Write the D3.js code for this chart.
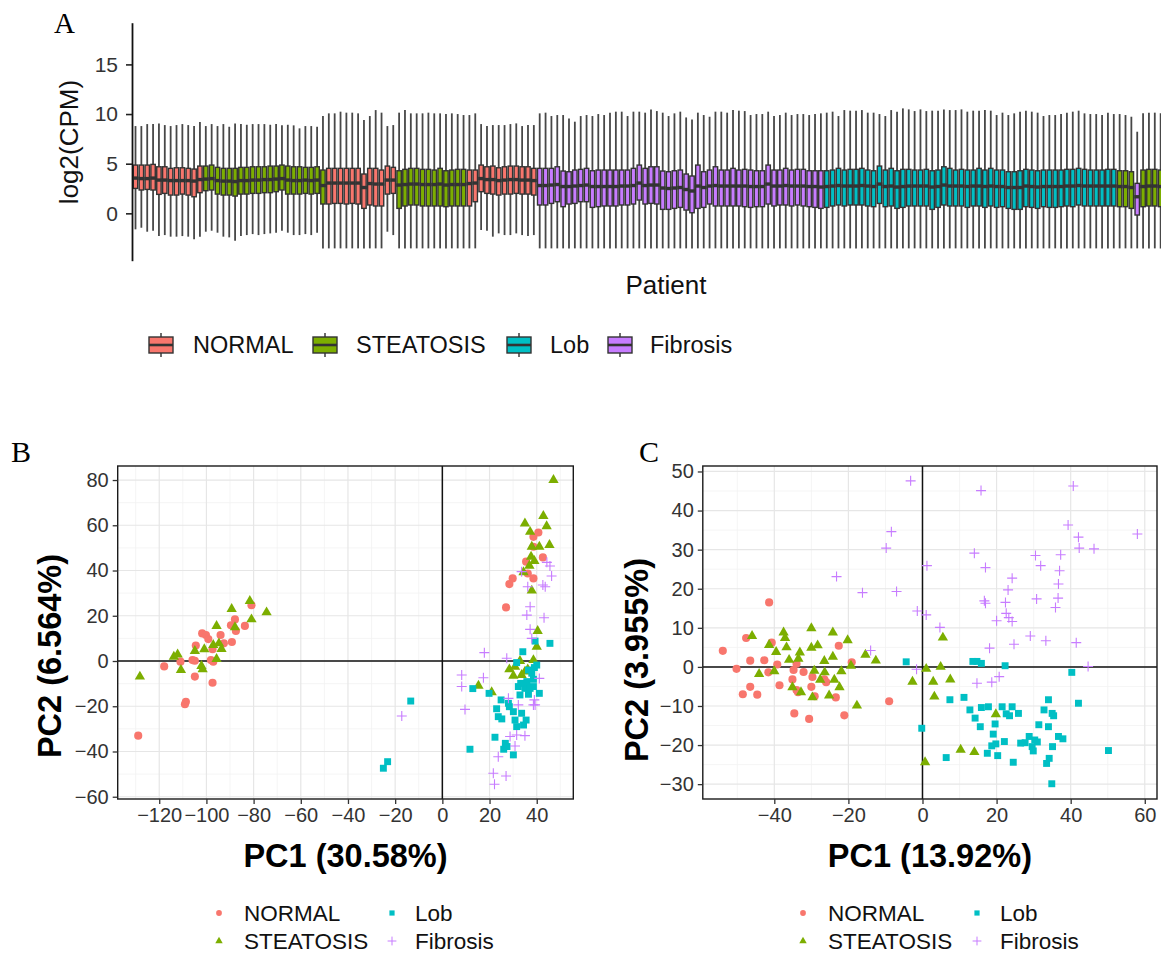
<!DOCTYPE html>
<html><head><meta charset="utf-8">
<script src="https://cdn.jsdelivr.net/npm/d3@7"></script>
<style>
body{margin:0;background:#fff}
svg{display:block;font-family:"Liberation Sans",Arial,Helvetica,sans-serif}
</style>
</head><body>
<svg id="chart" width="1161" height="958"></svg>
<script>
// ---------------- DATA ----------------
const groups = ["NORMAL", "STEATOSIS", "Lob", "Fibrosis"];
const groupCodes = ["N", "S", "L", "F"];
const groupColors = ["#F8766D", "#7CAE00", "#00BFC4", "#C77CFF"];

// Panel A: one code per patient (N=NORMAL, S=STEATOSIS, L=Lob, F=Fibrosis)
const patientGroup = ("NNNNNNNNNNNN" + "SSSSSSSSSSSSSSSSSSSSS" + "NNNNNNNNNNNN" + "SSSSSSSSSSSS" + "NNNNNNNNNNNN" +
  "FFFFFFFFFFFFFFFFFFFFFFFFFFFFFFFFFFFFFFFFFFFFFFFFF" +
  "LLLLLLLLLLLLLLLLLLLLLLLLLLLLLLLLLLLLLLLLLLLLLLLLLL" + "SSS" + "F" + "SSSS").split("");

const whiskerLow = [
 -1.61,-1.45,-1.85,-1.75,-2.29,-2.19,-2.35,-2.35,-2.29,-2.35,
 -2.62,-2.35,-1.85,-1.75,-1.95,-2.35,-2.42,-2.75,-2.29,-2.19,
 -2.09,-2.19,-2.09,-2.02,-1.95,-1.75,-1.95,-2.19,-2.19,-2.09,
 -2.19,-1.95,
 -3.53,-3.53,-3.53,-3.53,-3.53,-3.53,-3.53,-3.53,-3.53,-3.53,-3.53,
 -1.85,-2.19,
 -3.53,-3.53,-3.53,-3.53,-3.53,-3.53,-3.53,-3.53,-3.53,-3.53,-3.53,-3.53,-3.53,-3.53,
 -1.68,-1.75,-2.35,-2.02,-2.19,-2.19,-2.02,-2.19,-2.29,-2.19,
 -3.53,-3.53,-3.53,-3.53,-3.53,-3.53,-3.53,-3.53,-3.53,-3.53,
 -3.53,-3.53,-3.53,-3.53,-3.53,-3.53,-3.53,-3.53,-3.53,-3.53,
 -3.53,-3.53,-3.53,-3.53,-3.53,-3.53,-3.53,-3.53,-3.53,-3.53,
 -3.53,-3.53,-3.53,-3.53,-3.53,-3.53,-3.53,-3.53,-3.53,-3.53,
 -3.53,-3.53,-3.53,-3.53,-3.53,-3.53,-3.53,-3.53,-3.53,-3.53,
 -3.53,-3.53,-3.53,-3.53,-3.53,-3.53,-3.53,-3.53,-3.53,-3.53,
 -3.53,-3.53,-3.53,-3.53,-3.53,-3.53,-3.53,-3.53,-3.53,-3.53,
 -3.53,-3.53,-3.53,-3.53,-3.53,-3.53,-3.53,-3.53,-3.53,-3.53,
 -3.53,-3.53,-3.53,-3.53,-3.53,-3.53,-3.53,-3.53,-3.53,-3.53,
 -3.53,-3.53,-3.53,-3.53,-3.53,-3.53,-3.53,-3.53,-3.53,-3.53,
 -3.53,-3.53,-3.53,-3.53,-3.53,-3.53,-3.53
];
const q1 = [
 2.51,2.35,2.41,2.35,1.91,2.01,1.84,1.84,1.94,1.84,
 1.67,2.08,2.28,2.35,1.94,1.84,1.84,1.74,1.94,1.94,
 2.01,2.01,2.08,2.08,2.18,2.35,1.94,1.94,1.94,2.01,
 1.94,2.01,
 0.94,0.94,1.00,1.00,0.94,1.00,0.94,0.50,0.84,0.74,0.74,
 1.94,2.01,
 0.50,0.74,0.84,0.84,0.74,0.74,0.74,0.74,0.67,0.74,0.74,0.74,0.74,1.17,
 2.18,2.01,1.94,1.84,1.94,1.94,2.01,1.94,1.94,1.84,
 0.84,0.84,1.00,1.17,0.67,0.94,1.00,1.17,1.17,0.60,
 0.67,0.74,0.74,0.74,0.84,0.84,0.94,1.34,0.94,1.00,
 0.94,0.40,0.40,0.50,0.60,0.33,0.06,0.50,0.60,0.94,
 0.74,0.74,0.74,0.74,0.74,0.67,0.60,0.67,0.67,0.94,
 0.74,0.84,0.84,0.74,0.84,0.74,0.67,0.60,0.50,
 0.60,0.74,0.84,0.74,0.84,0.84,0.84,0.74,0.67,1.00,
 0.67,0.74,0.50,0.60,0.74,0.74,0.74,0.74,0.40,0.60,
 0.84,0.74,0.74,0.74,0.60,0.74,0.74,0.60,0.74,0.60,
 0.67,0.50,0.40,0.40,0.67,0.60,0.50,0.67,0.60,0.60,
 0.67,0.74,0.67,0.84,0.74,0.74,0.74,0.74,0.74,0.74,
 0.67,0.67,0.50,-0.17,0.67,0.74,0.74,0.67
];
const median = [
 3.55,3.5,3.5,3.55,3.35,3.35,3.3,3.3,3.3,3.3,
 3.25,3.4,3.45,3.5,3.3,3.25,3.25,3.2,3.3,3.3,
 3.35,3.35,3.4,3.4,3.45,3.5,3.35,3.3,3.3,3.35,
 3.3,3.35,
 2.8,3.05,3.05,3.05,3.05,3.05,3.05,2.6,3.0,2.95,2.95,
 3.35,3.35,
 2.85,2.9,2.95,2.95,2.9,2.9,2.9,2.95,2.85,2.9,2.9,2.9,3.0,3.05,
 3.5,3.4,3.4,3.3,3.35,3.4,3.4,3.35,3.35,3.3,
 2.8,2.8,2.85,2.9,2.7,2.7,2.75,2.8,2.85,2.7,
 2.7,2.7,2.7,2.7,2.75,2.75,2.8,3.05,2.8,2.85,
 2.85,2.55,2.5,2.55,2.6,2.4,2.25,2.75,2.6,2.75,
 2.8,2.75,2.75,2.75,2.75,2.75,2.7,2.7,2.7,2.95,
 2.75,2.75,2.8,2.75,2.75,2.75,2.7,2.7,2.65,
 2.7,2.75,2.8,2.75,2.75,2.75,2.8,2.75,2.7,2.95,
 2.7,2.75,2.65,2.7,2.75,2.75,2.75,2.75,2.65,2.7,
 2.85,2.75,2.75,2.75,2.7,2.75,2.75,2.7,2.75,2.7,
 2.7,2.6,2.6,2.6,2.75,2.7,2.65,2.7,2.7,2.7,
 2.7,2.75,2.75,2.8,2.75,2.75,2.75,2.75,2.75,2.75,
 2.7,2.7,2.6,1.67,2.7,2.75,2.75,2.7
];
const q3 = [
 4.86,4.86,4.86,4.93,4.69,4.69,4.53,4.59,4.59,4.53,
 4.46,4.76,4.76,4.86,4.63,4.53,4.53,4.53,4.63,4.63,
 4.69,4.69,4.69,4.76,4.76,4.86,4.76,4.69,4.69,4.63,
 4.63,4.69,
 4.36,4.53,4.53,4.53,4.53,4.53,4.53,3.96,4.53,4.53,4.36,
 4.76,4.63,
 4.29,4.43,4.53,4.53,4.43,4.43,4.36,4.53,4.29,4.36,4.43,4.43,4.36,4.36,
 4.86,4.69,4.76,4.59,4.69,4.76,4.76,4.69,4.69,4.53,
 4.53,4.53,4.53,4.69,4.26,4.19,4.36,4.43,4.53,4.29,
 4.36,4.36,4.36,4.36,4.36,4.36,4.53,4.86,4.53,4.69,
 4.69,4.26,4.19,4.29,4.36,3.96,3.76,4.86,4.19,4.36,
 4.69,4.36,4.36,4.53,4.36,4.43,4.36,4.29,4.29,4.86,
 4.36,4.36,4.53,4.36,4.43,4.43,4.29,4.29,4.29,
 4.29,4.36,4.53,4.36,4.43,4.43,4.53,4.36,4.29,4.76,
 4.36,4.53,4.29,4.43,4.43,4.36,4.36,4.43,4.29,4.36,
 4.69,4.53,4.36,4.43,4.36,4.36,4.53,4.36,4.53,4.36,
 4.36,4.19,4.19,4.29,4.43,4.36,4.29,4.36,4.36,4.36,
 4.36,4.43,4.43,4.53,4.43,4.36,4.36,4.36,4.43,4.43,
 4.29,4.29,4.19,3.02,4.36,4.43,4.43,4.36
];
const whiskerHigh = [
 8.79,8.79,8.99,8.99,9.06,8.89,8.79,8.89,8.99,8.89,
 8.79,9.19,8.79,8.99,8.79,8.99,8.72,9.06,8.99,8.92,
 8.99,8.99,8.99,8.92,8.99,8.86,8.92,8.86,8.56,8.79,
 8.79,8.72,
 9.80,10.07,10.07,10.24,10.14,10.14,10.07,9.40,9.80,10.40,10.14,
 8.79,8.89,
 10.14,10.40,10.07,10.07,10.07,10.14,10.07,10.07,10.00,10.07,10.00,9.90,9.90,10.07,
 8.99,8.79,8.89,8.89,8.89,8.99,9.06,8.79,8.89,8.89,
 10.07,10.14,9.80,9.90,9.90,9.56,9.23,9.80,9.90,9.80,
 10.00,9.90,10.14,10.24,10.24,9.80,10.24,10.24,10.14,10.47,
 10.30,10.14,9.80,10.07,10.24,9.66,9.46,10.14,9.90,9.73,
 10.24,10.24,10.14,10.40,10.34,10.30,9.90,10.00,10.00,10.24,
 9.80,9.90,10.14,9.90,10.00,10.00,9.90,10.00,10.07,
 10.14,10.24,9.80,10.40,10.34,10.34,10.40,10.14,10.14,10.00,
 9.80,10.40,10.24,10.57,10.47,10.30,10.47,10.30,10.34,10.34,
 10.47,10.40,10.40,10.47,10.24,10.34,10.34,10.40,10.34,9.90,
 10.14,9.90,10.07,10.24,10.34,10.24,10.14,9.80,9.90,9.90,
 10.00,10.14,10.24,10.34,10.07,10.00,10.00,9.90,10.14,10.00,
 10.00,9.90,9.73,8.22,10.07,10.14,10.14,10.07
];
const yTicksA = [0, 5, 10, 15];

// Panel B: PCA (PC1 30.58%, PC2 6.564%)
const pcaB_NORMAL = [[-128.9,-33.0],[-117.9,-2.4],[-111,-0.3],[-109.1,-19.1],[-108.7,-18.0],[-105.9,0.4],[-104.9,0.1],
 [-104.9,-6.9],[-104.5,6.8],[-101.8,12.2],[-100.2,11.5],[-99.2,9.7],[-98.1,0.4],[-97.4,5.2],[-97.1,-0.3],[-97.4,-9.6],
 [-94,11.5],[-92.6,7.8],[-89.6,15.8],[-89.2,8.4],[-87.9,18.4],[-87.5,13.3],[-83.7,15.5],[-80.9,24.7],
 [27,23.7],[28.4,34],[29.8,36.5],[35.5,43.9],[36.2,38.7],[38.6,36.5],[38.6,54.9],[40.7,56.8],[42.6,45.8],[38.6,50.5]];
const pcaB_STEATOSIS = [[-128.2,-6.9],[-113.8,1.9],[-112.2,2.9],[-110.8,-4.0],[-104.9,4.4],[-102.1,-2.2],[-101.6,-3.7],
 [-100.9,5.2],[-97.1,7.1],[-95.7,15.5],[-95.7,0.9],[-94.7,7.8],[-93.6,5.3],[-89.3,23],[-87.9,14.9],[-81.6,26.5],[-80.9,18.4],[-74.5,21.5],
 [15.3,-10.9],[20.9,-13.8],[28.4,-3.7],[30.1,-6.5],[30.8,-2.5],[32.9,0],[33.6,-6.2],[35,-4.7],[36.2,-3.7],[38.6,0.4],
 [40,6.3],[40.4,13.3],[37.9,31.1],[34.4,39.2],[36.9,42.1],[37.6,46.1],[39,44.2],[37.9,50.5],[41.1,50.5],[45.4,51.3],
 [35,60.8],[37.2,57.1],[42.8,64.1],[44.2,59.6],[47.1,80.0]];
const pcaB_Lob = [[-25,-47.4],[-23.2,-44.5],[-13.4,-17.7],[11.7,-39],[12.9,-12.2],[19.8,-14.3],[22.3,-33.7],[23,-21.1],
 [24.9,-17.2],[25.2,-25.6],[26,-39],[26.7,-36.4],[27.4,-37.8],[28.4,-20.2],[30.1,-41.5],[30.8,-26.1],[31.5,-29],[32.2,-11.3],
 [32.9,-15],[33.6,-23.1],[34.4,-28.3],[34.1,4.1],[35,-12.1],[35.5,-26.1],[36.5,-14.7],[37.2,-12.1],[37.9,-5.4],[38.6,-11.3],
 [39,-2.9],[39.3,8.8],[40,-1.8],[41.1,-14.3],[45.6,7.8],[31.5,-0.7],[33.2,-9.9],[35.8,-9.1],[28,-18.7],[23.7,-24.6],
 [30.1,-22.4],[36.5,-4.0],[38.6,-8.1]];
const pcaB_Fibrosis = [[-17.2,-24.3],[8.2,-6.2],[8.2,-11.3],[9.6,-21.4],[17.8,3.7],[17.4,-7.4],[21.6,-49.6],[22.1,-54.5],
 [23.7,-42.3],[27,-50.8],[27.3,1.2],[28,-16.5],[28.7,-33.4],[30.8,-37.6],[31.5,-32.7],[32.2,-19.4],[33.6,39.5],[35,-33],
 [35.8,20.3],[36.2,32.8],[37.2,24],[37.2,14],[37.9,10],[38.6,-19.4],[39,-17.2],[39.3,-19.4],[41.1,-7.7],[42.6,33.6],
 [43.1,19.1],[43.6,32.8],[44.3,43.6],[45.6,42],[46.3,37.6]];
const xTicksB = [-120,-100,-80,-60,-40,-20,0,20,40];
const yTicksB = [-60,-40,-20,0,20,40,60,80];

// Panel C: PCA (PC1 13.92%, PC2 3.955%)
const pcaC_NORMAL = [[-53.9,4.1],[-50.2,-0.5],[-48.5,-7.0],[-47.6,7.4],[-46.5,1.6],[-46.5,-5.1],[-44.6,-7.1],[-42.7,1.7],
 [-41.6,-1.4],[-41.4,16.5],[-40.7,6.2],[-39.2,0.6],[-38.6,-4.7],[-35.1,-3.2],[-34.8,-0.8],[-34.6,-11.9],[-34.0,0.8],
 [-34.0,-5.9],[-33.6,-6.5],[-32.1,-1.3],[-30.6,-13.3],[-30.0,-5.1],[-29.7,-2.6],[-29.1,-7.5],[-26.5,-3.2],[-26.0,-3.9],
 [-23.4,-7.8],[-22.6,5.4],[-21.1,-12.4],[-19.1,1.2],[-9.0,-8.8]];
const pcaC_STEATOSIS = [[-46,7.9],[-44.1,-1.8],[-41.4,5.6],[-40.0,-1.1],[-39.5,3.8],[-37.5,8.8],[-37.1,7.4],[-36.7,5.0],
 [-36,1.8],[-35.1,-5.2],[-33.5,2.1],[-33.1,3.7],[-32.8,-6.5],[-30,9.9],[-30,4.9],[-29.7,-7.8],[-29.2,-1.0],[-28.3,5.5],
 [-27.6,-3.3],[-26.5,1.5],[-26.4,-1.4],[-25.2,-7.3],[-24.2,8.8],[-24.2,2.6],[-23.8,-3.3],[-22.4,-5.2],[-21.9,-1.1],
 [-20.2,6.8],[-19.3,0.3],[-17.7,-9.9],[-15.4,3.1],[-12.6,1.6],[-2.7,-3.8],[1.0,-0.5],[0.7,-24.4],[2.9,-3.8],[3.2,-7.6],
 [4.9,0],[5.5,7.5],[7.5,-3.2],[10.3,-21.2],[14.0,-21.8],[19.8,-12.1]];
const pcaC_Lob = [[-4.4,1.3],[-0.2,-15.7],[6.4,-23.2],[7.4,-8.4],[11.2,-7.8],[12.8,-11.0],[13.6,1.4],[14.2,-13.1],[14.7,1.4],
 [15.6,-15.3],[15.9,0.9],[15.9,-10.4],[17.8,-10.2],[17.5,-22.1],[18.7,-20.2],[19.1,-17.2],[19.6,-14.6],[19.8,-19.7],
 [20.3,-22.7],[21.5,-10.2],[22.1,-19.1],[22.3,0.3],[22.6,-12.0],[23.5,-12.5],[24.2,-10.2],[24.5,-24.4],[25.9,-11.9],
 [26.5,-19.5],[27.7,-19.4],[28.8,-17.8],[29.6,-20.4],[29.9,-21.5],[30.3,-18.7],[31.0,-19.2],[31.4,-14.8],[32.8,-11.0],
 [33.5,-24.7],[34.0,-15.3],[34.0,-8.4],[34.2,-23.4],[34.9,-29.9],[35.0,-11.9],[35.4,-12.5],[35.1,-20.4],[36.7,-17.8],
 [37.9,-18.4],[40.3,-1.4],[42.1,-9.3],[50.2,-21.4]];
const pcaC_Fibrosis = [[-3.2,47.6],[-8.4,34.6],[-9.8,30.4],[-23.2,23.1],[-16.2,19.0],[-7.0,19.3],[-1.4,14.3],[1.0,13.3],
 [1.2,25.9],[4.7,10.1],[-14.0,4.2],[-1.6,-0.6],[15.8,45.1],[14.0,29.1],[17.0,25.4],[16.7,16.9],[17.0,16.3],[18.1,4.8],
 [18.7,-3.9],[14.7,-4.2],[20.0,11.8],[20.7,-2.5],[22.4,16.5],[22.6,13.7],[23.1,19.7],[23.3,12.6],[24.2,22.7],[24.2,11.6],
 [24.7,5.8],[29.1,7.9],[30.5,28.5],[30.8,17.4],[31.9,25.9],[33.3,6.7],[35.9,15.2],[36.6,17.6],[36.7,21.2],[37.0,24.6],
 [37.3,28.7],[39.3,36.3],[40.7,46.3],[41.5,6.2],[42.1,33.2],[42.3,30.4],[44.7,0.1],[46.3,30.2],[58.0,34.0]];
const xTicksC = [-40,-20,0,20,40,60];
const yTicksC = [-30,-20,-10,0,10,20,30,40,50];

// ---------------- DRAW ----------------
const svg = d3.select("#chart");
const colorOf = d3.scaleOrdinal().domain(groupCodes).range(groupColors);
const TXT = "#333";

// ===== Panel A =====
(function panelA() {
  const n = Math.min(patientGroup.length, whiskerLow.length, q1.length, median.length, q3.length, whiskerHigh.length);
  const ids = d3.range(n).map(i => "P" + (i + 1));
  const step = 5.858;
  const x = d3.scalePoint().domain(ids).range([135.5, 135.5 + step * (n - 1)]);
  const y = d3.scaleLinear().domain([-4.77, 19.2]).range([260.7, 22.7]);
  const g = svg.append("g");
  const boxes = ids.map((id, i) => ({id, grp: patientGroup[i], lo: whiskerLow[i], a: q1[i], m: median[i], b: q3[i], hi: whiskerHigh[i]}));
  const bw = 4.4;
  const bx = g.selectAll("g.box").data(boxes).join("g").attr("class", "box");
  bx.append("line").attr("x1", d => x(d.id)).attr("x2", d => x(d.id))
    .attr("y1", d => y(d.lo)).attr("y2", d => y(d.a)).attr("stroke", "#474747").attr("stroke-width", 1.8);
  bx.append("line").attr("x1", d => x(d.id)).attr("x2", d => x(d.id))
    .attr("y1", d => y(d.b)).attr("y2", d => y(d.hi)).attr("stroke", "#474747").attr("stroke-width", 1.8);
  bx.append("rect").attr("x", d => x(d.id) - bw / 2).attr("width", bw)
    .attr("y", d => y(d.b)).attr("height", d => y(d.a) - y(d.b))
    .attr("fill", d => colorOf(d.grp)).attr("stroke", "#333").attr("stroke-width", 1.4);
  bx.append("line").attr("x1", d => x(d.id) - bw / 2 - 0.7).attr("x2", d => x(d.id) + bw / 2 + 0.7)
    .attr("y1", d => y(d.m)).attr("y2", d => y(d.m)).attr("stroke", "#333").attr("stroke-width", 3.4);

  const yAxis = d3.axisLeft(y).tickValues(yTicksA).tickSize(6).tickSizeOuter(0).tickPadding(8);
  const ga = svg.append("g").attr("transform", "translate(132,0)").call(yAxis);
  ga.select(".domain").attr("stroke", "#111").attr("stroke-width", 1.8);
  ga.selectAll(".tick line").attr("stroke", "#222").attr("stroke-width", 1.6);
  ga.selectAll(".tick text").attr("font-size", 21).attr("fill", TXT).attr("font-family", "Liberation Sans, Arial, sans-serif");

  svg.append("text").attr("transform", "translate(78,142) rotate(-90)").attr("text-anchor", "middle")
    .attr("font-size", 26).attr("fill", "#111").text("log2(CPM)");
  svg.append("text").attr("x", 666).attr("y", 294).attr("text-anchor", "middle")
    .attr("font-size", 26).attr("fill", "#111").text("Patient");

  // Legend
  const legX = [149, 313, 507, 608];
  const legTextX = [193, 356, 550, 650];
  const order = [0, 1, 2, 3];
  const lg = svg.append("g");
  order.forEach((k, j) => {
    const cx = legX[j] + 12;
    lg.append("line").attr("x1", cx).attr("x2", cx).attr("y1", 333).attr("y2", 357).attr("stroke", "#4a4a4a").attr("stroke-width", 1.6);
    lg.append("rect").attr("x", legX[j]).attr("y", 337).attr("width", 24).attr("height", 16)
      .attr("fill", groupColors[k]).attr("stroke", "#333").attr("stroke-width", 1.4);
    lg.append("line").attr("x1", legX[j]).attr("x2", legX[j] + 24).attr("y1", 345).attr("y2", 345).attr("stroke", "#333").attr("stroke-width", 2.6);
    lg.append("text").attr("x", legTextX[j]).attr("y", 345).attr("dy", "0.35em").attr("font-size", 23.5).attr("fill", "#111").text(groups[k]);
  });
  svg.append("text").attr("x", 54).attr("y", 33).attr("font-family", "Liberation Serif, Times New Roman, serif")
    .attr("font-size", 29).attr("fill", "#000").text("A");
})();

// ===== Scatter panels =====
function symbolPath(code, big) {
  if (code === "N") return d3.symbol(d3.symbolCircle, big ? 52 : 26)();
  if (code === "S") return d3.symbol(d3.symbolTriangle, big ? 46 : 24)();
  if (code === "L") return d3.symbol(d3.symbolSquare, big ? 48 : 27)();
  const h = big ? 5 : 4.4;
  return `M${-h},0H${h}M0,${-h}V${h}`;
}
function drawSym(sel, code, big) {
  sel.attr("d", symbolPath(code, big));
  if (code === "F") sel.attr("fill", "none").attr("stroke", colorOf(code)).attr("stroke-width", big ? 1.1 : 1.0);
  else sel.attr("fill", colorOf(code)).attr("stroke", "none");
}

function scatterPanel(cfg) {
  const x = d3.scaleLinear().domain(cfg.xDomain).range([cfg.left, cfg.right]);
  const y = d3.scaleLinear().domain(cfg.yDomain).range([cfg.bottom, cfg.top]);
  const g = svg.append("g");
  // minor grid (half-way between major ticks)
  const xMinor = d3.range(Math.floor(cfg.xDomain[0] / cfg.xStep) - 0.5, cfg.xDomain[1] / cfg.xStep + 1, 1).map(v => v * cfg.xStep)
    .filter(v => v > cfg.xDomain[0] && v < cfg.xDomain[1]);
  const yMinor = d3.range(Math.floor(cfg.yDomain[0] / cfg.yStep) - 0.5, cfg.yDomain[1] / cfg.yStep + 1, 1).map(v => v * cfg.yStep)
    .filter(v => v > cfg.yDomain[0] && v < cfg.yDomain[1]);
  g.selectAll("line.mx").data(xMinor).join("line")
    .attr("x1", d => x(d)).attr("x2", d => x(d)).attr("y1", cfg.top).attr("y2", cfg.bottom).attr("stroke", "#f2f2f2").attr("stroke-width", 0.8);
  g.selectAll("line.my").data(yMinor).join("line")
    .attr("y1", d => y(d)).attr("y2", d => y(d)).attr("x1", cfg.left).attr("x2", cfg.right).attr("stroke", "#f2f2f2").attr("stroke-width", 0.8);
  g.selectAll("line.gx").data(cfg.xTicks).join("line")
    .attr("x1", d => x(d)).attr("x2", d => x(d)).attr("y1", cfg.top).attr("y2", cfg.bottom).attr("stroke", "#e6e6e6").attr("stroke-width", 1.2);
  g.selectAll("line.gy").data(cfg.yTicks).join("line")
    .attr("y1", d => y(d)).attr("y2", d => y(d)).attr("x1", cfg.left).attr("x2", cfg.right).attr("stroke", "#e6e6e6").attr("stroke-width", 1.2);
  // zero lines
  g.append("line").attr("x1", x(0)).attr("x2", x(0)).attr("y1", cfg.top).attr("y2", cfg.bottom).attr("stroke", "#111").attr("stroke-width", 1.5);
  g.append("line").attr("y1", y(0)).attr("y2", y(0)).attr("x1", cfg.left).attr("x2", cfg.right).attr("stroke", "#111").attr("stroke-width", 1.5);
  // points
  cfg.series.forEach(s => {
    g.selectAll(null).data(s.pts).join("path")
      .attr("transform", d => `translate(${x(d[0])},${y(d[1])})`)
      .call(sel => drawSym(sel, s.code, true));
  });
  // border
  g.append("rect").attr("x", cfg.left).attr("y", cfg.top).attr("width", cfg.right - cfg.left).attr("height", cfg.bottom - cfg.top)
    .attr("fill", "none").attr("stroke", "#1a1a1a").attr("stroke-width", 1.4);
  // axes
  const xa = svg.append("g").attr("transform", `translate(0,${cfg.bottom})`)
    .call(d3.axisBottom(x).tickValues(cfg.xTicks).tickSize(5).tickSizeOuter(0).tickPadding(4));
  const ya = svg.append("g").attr("transform", `translate(${cfg.left},0)`)
    .call(d3.axisLeft(y).tickValues(cfg.yTicks).tickSize(5).tickSizeOuter(0).tickPadding(4));
  [xa, ya].forEach(a => {
    a.select(".domain").remove();
    a.selectAll(".tick line").attr("stroke", "#333").attr("stroke-width", 1.3);
    a.selectAll(".tick text").attr("font-size", 20).attr("fill", TXT).attr("font-family", "Liberation Sans, Arial, sans-serif");
  });
  svg.append("text").attr("x", (cfg.left + cfg.right) / 2).attr("y", 867).attr("text-anchor", "middle")
    .attr("font-size", 32.5).attr("font-weight", "bold").attr("fill", "#000").text(cfg.xTitle);
  svg.append("text").attr("transform", `translate(${cfg.yTitleX},${cfg.yTitleY}) rotate(-90)`).attr("text-anchor", "middle")
    .attr("font-size", 32.5).attr("font-weight", "bold").attr("fill", "#000").text(cfg.yTitle);
  // legend
  const lx = cfg.legX;
  const items = [["N", lx[0], lx[1], 913], ["L", lx[2], lx[3], 913], ["S", lx[0], lx[1], 941], ["F", lx[2], lx[3], 941]];
  items.forEach(([code, sx, tx, ly]) => {
    svg.append("path").attr("transform", `translate(${sx},${ly})`).call(sel => drawSym(sel, code, false));
    svg.append("text").attr("x", tx).attr("y", ly).attr("dy", "0.35em").attr("font-size", 22.5).attr("fill", "#111")
      .text(groups[groupCodes.indexOf(code)]);
  });
  svg.append("text").attr("x", cfg.labelX).attr("y", 462).attr("font-family", "Liberation Serif, Times New Roman, serif")
    .attr("font-size", 30).attr("fill", "#000").text(cfg.label);
}

scatterPanel({
  left: 117.7, right: 573.3, top: 466, bottom: 799,
  xDomain: [-137.6, 55.5], yDomain: [-61, 86.2], xStep: 20, yStep: 20,
  xTicks: xTicksB, yTicks: yTicksB,
  series: [{code: "N", pts: pcaB_NORMAL}, {code: "S", pts: pcaB_STEATOSIS}, {code: "L", pts: pcaB_Lob}, {code: "F", pts: pcaB_Fibrosis}],
  xTitle: "PC1 (30.58%)", yTitle: "PC2 (6.564%)", yTitleX: 61, yTitleY: 656,
  legX: [219, 244, 392, 415], label: "B", labelX: 11
});
scatterPanel({
  left: 702.8, right: 1157, top: 466, bottom: 799,
  xDomain: [-59.3, 63.3], yDomain: [-33.8, 51.4], xStep: 20, yStep: 10,
  xTicks: xTicksC, yTicks: yTicksC,
  series: [{code: "N", pts: pcaC_NORMAL}, {code: "S", pts: pcaC_STEATOSIS}, {code: "L", pts: pcaC_Lob}, {code: "F", pts: pcaC_Fibrosis}],
  xTitle: "PC1 (13.92%)", yTitle: "PC2 (3.955%)", yTitleX: 648, yTitleY: 660,
  legX: [803, 828, 977, 1000], label: "C", labelX: 639
});
</script>
</body></html>
